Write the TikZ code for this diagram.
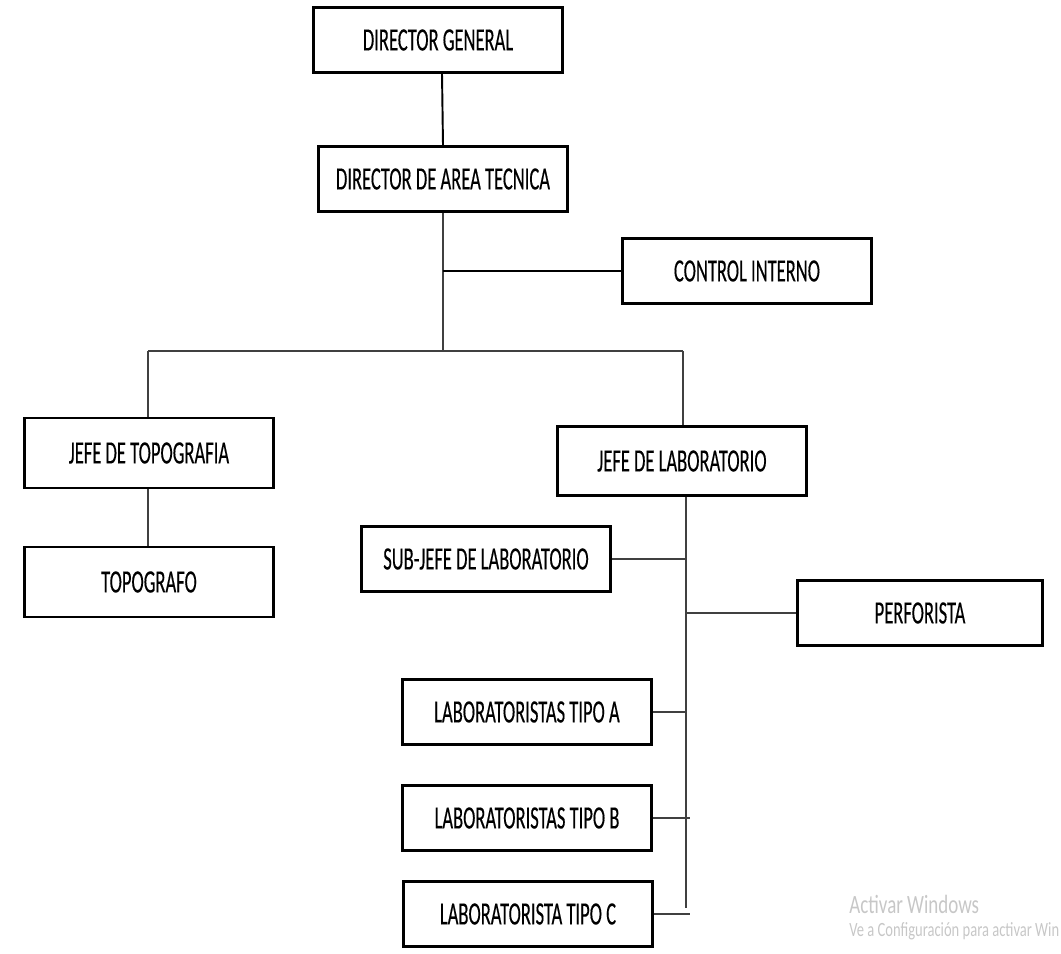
\documentclass[tikz,border=0pt]{standalone}
\usepackage{fontspec}
\setmainfont{Carlito}[FakeStretch=0.57, FakeBold=0.3]
\newfontfamily\wmfont{Carlito}[FakeStretch=0.72]
\usepackage{tikz}

\tikzset{
    cargo/.style={draw=black, line width=1.4pt, rectangle, minimum width=4.98cm,
        minimum height=1.3cm, inner sep=0pt, fill=white,
        font=\fontsize{18.5}{21}\selectfont},
    enlace/.style={draw=black!75, line width=0.6pt},
    enlacegrueso/.style={draw=black, line width=1.1pt},
}

\begin{document}
\begin{tikzpicture}[x=0.02cm, y=-0.02cm]
        \useasboundingbox (0,0) rectangle (1061,953);

        % cargos
        \node[cargo] (dg) at (438,40) {DIRECTOR GENERAL};
        \node[cargo] (dat) at (443,179) {DIRECTOR DE AREA TECNICA};
        \node[cargo] (ci) at (747,271) {CONTROL INTERNO};
        \node[cargo, minimum height=1.4cm] (jt) at (149,453) {JEFE DE TOPOGRAFIA};
        \node[cargo, minimum height=1.4cm] (topo) at (149,582) {TOPOGRAFO};
        \node[cargo, minimum height=1.38cm] (jl) at (682,461) {JEFE DE LABORATORIO};
        \node[cargo] (sj) at (486,559) {SUB-JEFE DE LABORATORIO};
        \node[cargo, minimum width=4.9cm] (perf) at (920,613) {PERFORISTA};
        \node[cargo] (la) at (527,712) {LABORATORISTAS TIPO A};
        \node[cargo] (lb) at (527,818) {LABORATORISTAS TIPO B};
        \node[cargo] (lc) at (528,914) {LABORATORISTA TIPO C};

        \coordinate (busl) at (148,351);
        \coordinate (busr) at (683,351);
        \coordinate (bus) at (443,351);
        \coordinate (lomo) at (686,908);

        % lineas
        \draw[enlacegrueso] (dg.south -| dat.north) ++(-1,0) -- (dat.north);
        \draw[enlace] (dat.south) -- (bus);
        \draw[enlacegrueso] (dat.south |- ci.west) -- (ci.west);
        \draw[enlace] (busl) -- (busr);
        \draw[enlace] (busl) -- (busl |- jt.north);
        \draw[enlace] (busr) -- (busr |- jl.north);
        \draw[enlace] (jt.south -| busl) -- (topo.north -| busl);
        \draw[enlace] (lomo |- jl.south) -- (lomo);
        \draw[enlace] (sj.east) -- (sj.east -| lomo);
        \draw[enlace] (perf.west) -- (perf.west -| lomo);
        \draw[enlace] (la.east) -- (la.east -| lomo);
        \draw[enlace] (lb.east) -- ([xshift=2pt]lb.east -| lomo);
        \draw[enlace] (lc.east) -- ([xshift=2pt]lc.east -| lomo);

        % marca de agua
        \node[anchor=base west, inner sep=0pt, text=black!22, font=\wmfont\fontsize{15}{15}\selectfont] (wm1) at (849,913) {Activar Windows};
        \node[anchor=base west, inner sep=0pt, text=black!22, font=\wmfont\fontsize{11.5}{12}\selectfont] (wm2) at (849,936) {Ve a Configuración para activar Win};
    \end{tikzpicture}
\end{document}
